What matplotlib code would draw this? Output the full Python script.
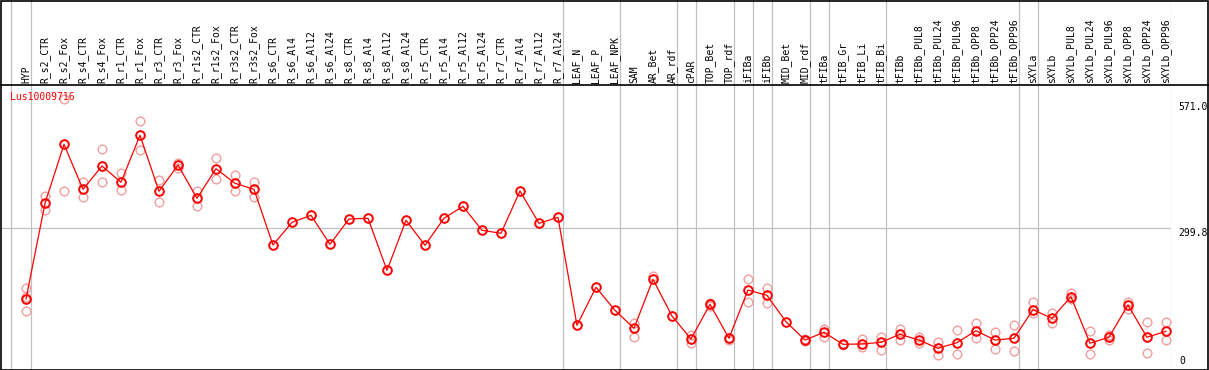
import numpy as np
import matplotlib
matplotlib.use("Agg")
import matplotlib.pyplot as plt
from matplotlib.path import Path
from matplotlib.lines import Line2D
from matplotlib.patches import Rectangle

nan = np.nan

# sample names (column headers)
samples = ["HYP", "R_s2_CTR", "R_s2_Fox", "R_s4_CTR", "R_s4_Fox", "R_r1_CTR", "R_r1_Fox",
           "R_r3_CTR", "R_r3_Fox", "R_r1s2_CTR", "R_r1s2_Fox", "R_r3s2_CTR", "R_r3s2_Fox",
           "R_s6_CTR", "R_s6_Al4", "R_s6_Al12", "R_s6_Al24", "R_s8_CTR", "R_s8_Al4",
           "R_s8_Al12", "R_s8_Al24", "R_r5_CTR", "R_r5_Al4", "R_r5_Al12", "R_r5_Al24",
           "R_r7_CTR", "R_r7_Al4", "R_r7_Al12", "R_r7_Al24", "LEAF_N", "LEAF_P", "LEAF_NPK",
           "SAM", "AR_Bet", "AR_rdf", "cPAR", "TOP_Bet", "TOP_rdf", "iFIBa", "iFIBb",
           "MID_Bet", "MID_rdf", "tFIBa", "tFIB_Gr", "tFIB_Li", "tFIB_Bi", "tFIBb",
           "tFIBb_PUL8", "tFIBb_PUL24", "tFIBb_PUL96", "tFIBb_OPP8", "tFIBb_OPP24",
           "tFIBb_OPP96", "sXYLa", "sXYLb", "sXYLb_PUL8", "sXYLb_PUL24", "sXYLb_PUL96",
           "sXYLb_OPP8", "sXYLb_OPP24", "sXYLb_OPP96"]

# mean expression
mean_vals = [148, 353.5, 480, 383.5, 433.6, 398.6, 499.5, 379.3, 435.7, 364.2, 427.8, 396.4,
             383.5, 263.9, 312.7, 327.7, 265.4, 319.8, 321.3, 209.6, 317, 263.3, 321.3, 347,
             295.5, 289.1, 379.9, 310.5, 323.4, 91.5, 173.1, 123.7, 85.1, 190.3, 111.5, 62.1,
             136.6, 63.6, 167.3, 155.9, 99.3, 59.9, 76.5, 50.7, 51.4, 55, 72.2, 59.9, 42.1,
             54.2, 79.9, 59.9, 63.6, 125, 106.5, 153, 53, 65.8, 135.1, 65.8, 78.6]

# replicates
rep_hi = [171, 369, 577, 399, 469.4, 417.9, 529.6, 402.9, 440.7, 379.9, 450.1, 414.3, 399.2,
          nan, nan, nan, nan, nan, nan, nan, nan, nan, nan, nan, nan, nan, nan, nan, nan,
          nan, nan, nan, 97.1, 197.4, nan, 70.0, 140, 65, 190.3, 171, nan, 62, 84.2, 52,
          62.7, 65.8, 82.9, 66.4, 55, 80.8, 95.8, 76.5, 91.5, 141.5, 118.6, 160.2, 78.6,
          70, 141.5, 98, 98]
rep_lo = [121.6, 338.5, 379, 366, 398.6, 381.4, 467.3, 355.6, 428.6, 348.3, 405, 379.3, 367.7,
          nan, nan, nan, nan, nan, nan, nan, nan, nan, nan, nan, nan, nan, nan, nan, nan,
          nan, nan, nan, 65.7, nan, nan, 54.2, 133, 60, 140.9, 138.8, nan, 57, 66.4, 49,
          44.3, 38.5, 59.9, 53, 28.4, 29.2, 64.9, 40, 35.7, 117.3, 95.8, 147.3, 29.2,
          61, 127.6, 31.3, 59.2]
rep_mid = [153] + [nan] * 60

# group separators (after these column indices)
sep_after = [-1.05, 0, 28, 31, 34, 35, 37, 38, 39, 41, 42, 45, 52, 53, 60]

gene = "Lus10009716"
y_ticks = ["571.0", "299.8", "0"]

W, H = 1209, 370
fig = plt.figure(figsize=(W / 100, H / 100), dpi=100)
mono = "DejaVu Sans Mono"

x = np.arange(len(samples))
ax_l, ax_r = 1 / W, 1170.7 / W
ax = fig.add_axes([ax_l, 1 / H, ax_r - ax_l, (369 - 85) / H])
hd = fig.add_axes([ax_l, (H - 85) / H, ax_r - ax_l, 85 / H])
for a in (ax, hd):
    a.set_xlim(-1.316, 60.25)
    a.axis("off")
ax.set_ylim(-2.3, 607.5)
hd.set_ylim(0, 85)

# tiny tick marks around the circle markers
t = 1.25
tick_mk = Path([(0, 1), (0, t), (0, -1), (0, -t), (1, 0), (t, 0), (-1, 0), (-t, 0)],
               [Path.MOVETO, Path.LINETO] * 4)
ms = 6.2


def circles(yv, color, mew, z):
    ax.plot(x, yv, ls="none", marker="o", ms=ms, mfc="none", mec=color, mew=mew, zorder=z)
    ax.plot(x, yv, ls="none", marker=tick_mk, ms=ms * t, mec=color, mew=0.6, zorder=z)


for a in (ax, hd):
    for s in sep_after:
        a.axvline(s + 0.25, color="#c0c0c0", lw=0.9, zorder=0)
ax.axhline(299.8, color="#c0c0c0", lw=0.9, zorder=0)

for reps in (rep_hi, rep_lo, rep_mid):
    circles(reps, "#f0a0a0", 1.0, 2)
ax.plot(x, mean_vals, color="red", lw=0.9, zorder=3)
circles(mean_vals, "red", 1.4, 4)

for i, name in enumerate(samples):
    hd.text(i, 2, name, rotation=90, ha="center", va="bottom", fontsize=7, family=mono)

fig.text(10 / W, 1 - 97 / H, gene, color="red", fontsize=7, family=mono, va="center")

tr = ax.get_yaxis_transform()
ax.text(1.0063, 571, y_ticks[0], transform=tr, fontsize=7, family=mono, va="top", clip_on=False)
ax.text(1.0063, 299.8, y_ticks[1], transform=tr, fontsize=7, family=mono, va="top", clip_on=False)
ax.text(1.0075, 0.012, y_ticks[2], transform=ax.transAxes, fontsize=7, family=mono, va="bottom")

# borders
fig.add_artist(Rectangle((0.5 / W, 0.5 / H), (W - 1.5) / W, (H - 1) / H, transform=fig.transFigure,
                         fill=False, ec="black", lw=1.2))
fig.add_artist(Line2D([0, 1], [(H - 85) / H] * 2, transform=fig.transFigure, color="black", lw=1.2))

fig.savefig("out.png", dpi=100)
